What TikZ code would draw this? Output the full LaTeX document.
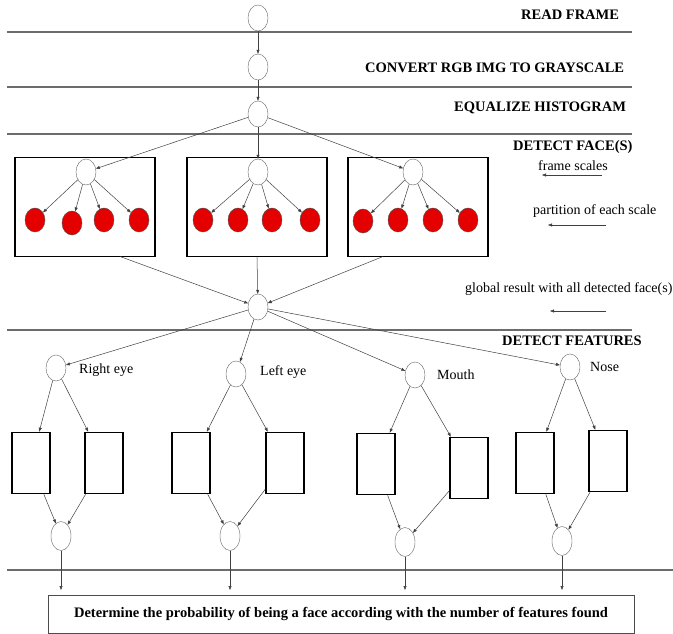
\documentclass[tikz,border=0pt]{standalone}
\usepackage{fontspec}
\setmainfont{Liberation Serif}
\usepackage{tikz}
\usetikzlibrary{shapes.geometric,arrows.meta}

\begin{document}
\begin{tikzpicture}
  [x=1pt,y=-1pt,>={Triangle[length=4pt,width=3pt]},
   every node/.style={inner sep=0pt},
   state/.style={ellipse,draw=gray!80!black,fill=white,minimum width=20pt,minimum height=26pt},
   part/.style={ellipse,draw=black!70,fill=red!90!black,minimum width=20pt,minimum height=24pt},
   scalebox/.style={draw,line width=1.6pt,minimum width=140pt,minimum height=99pt},
   featbox/.style={draw,line width=1.6pt,minimum width=38pt,minimum height=61pt},
   stage/.style={font=\bfseries\fontsize{14.5}{16}\selectfont,anchor=west},
   note/.style={font=\fontsize{14}{16}\selectfont,anchor=west},
   link/.style={->,draw=black!75,line width=0.5pt},
   sep/.style={draw=gray!85!black,line width=1.2pt}]
  \useasboundingbox (0,0) rectangle (673,633);

  \draw[sep] (7,32) -- (632,32);
  \draw[sep] (7,87) -- (632,87);
  \draw[sep] (7,134) -- (632,134);
  \draw[sep] (7,330) -- (632,330);
  \draw[sep] (7,570) -- (673,570);

  \node[stage] (t1) at (521,15) {READ FRAME};
  \node[stage] (t2) at (365,68) {CONVERT RGB IMG TO GRAYSCALE};
  \node[stage] (t3) at (454,108) {EQUALIZE HISTOGRAM};
  \node[stage] (t4) at (513,147) {DETECT FACE(S)};
  \node[stage] (t5) at (502,341) {DETECT FEATURES};

  \node[note] (m1) at (538,166) {frame scales};
  \node[note] (m2) at (533,211) {partition of each scale};
  \node[note] (m3) at (465,289) {global result with all detected face(s)};
  \coordinate (a1) at (602,175); \coordinate (b1) at (542,175);
  \coordinate (a2) at (606,225); \coordinate (b2) at (548,225);
  \coordinate (a3) at (606,311); \coordinate (b3) at (550,311);
  \draw[link] (a1) -- (b1);
  \draw[link] (a2) -- (b2);
  \draw[link] (a3) -- (b3);

  \node[state] (read) at (258,18) {};
  \node[state] (gray) at (258,67) {};
  \node[state] (equal) at (258,114) {};
  \draw[link] (read) -- (gray);
  \draw[link] (gray) -- (equal);

  \node[scalebox] (box1) at (85,207) {};
  \node[scalebox] (box2) at (257,207) {};
  \node[scalebox] (box3) at (418,207) {};

  \node[state] (s1) at (86,172) {};
  \node[state] (s2) at (258,172) {};
  \node[state] (s3) at (413,172) {};
  \draw[link] (equal) -- (s1);
  \draw[link] (equal) -- (s2);
  \draw[link] (equal) -- (s3);

  \node[part] (p11) at (35,220) {};
  \node[part] (p12) at (72,223) {};
  \node[part] (p13) at (104,220) {};
  \node[part] (p14) at (139,220) {};
  \node[part] (p21) at (203,220) {};
  \node[part] (p22) at (238,220) {};
  \node[part] (p23) at (272,220) {};
  \node[part] (p24) at (310,220) {};
  \node[part] (p31) at (363,221) {};
  \node[part] (p32) at (398,220) {};
  \node[part] (p33) at (433,220) {};
  \node[part] (p34) at (468,220) {};
  \draw[link] (s1) -- (p11);
  \draw[link] (s1) -- (p12);
  \draw[link] (s1) -- (p13);
  \draw[link] (s1) -- (p14);
  \draw[link] (s2) -- (p21);
  \draw[link] (s2) -- (p22);
  \draw[link] (s2) -- (p23);
  \draw[link] (s2) -- (p24);
  \draw[link] (s3) -- (p31);
  \draw[link] (s3) -- (p32);
  \draw[link] (s3) -- (p33);
  \draw[link] (s3) -- (p34);

  \node[state] (glob) at (258,307) {};
  \coordinate (o1) at (120,256.5);
  \coordinate (o2) at (257,256.5);
  \coordinate (o3) at (383,256.5);
  \draw[link] (o1) -- (glob);
  \draw[link] (o2) -- (glob);
  \draw[link] (o3) -- (glob);

  \node[state] (reye) at (56,368) {};
  \node[state] (leye) at (236,374) {};
  \node[state] (mouth) at (415,375) {};
  \node[state] (nose) at (570,367) {};
  \node[note] (lr) at (79,370) {Right eye};
  \node[note] (ll) at (260,372) {Left eye};
  \node[note] (lm) at (437,375) {Mouth};
  \node[note] (ln) at (590,367) {Nose};
  \draw[link] (glob) -- (reye);
  \draw[link] (glob) -- (leye);
  \draw[link] (glob) -- (mouth);
  \draw[link] (glob) -- (nose);

  \node[featbox] (r1) at (31,463) {};
  \node[featbox] (r2) at (104,463) {};
  \node[featbox] (l1) at (191,463) {};
  \node[featbox] (l2) at (285,463) {};
  \node[featbox] (m1b) at (376,464) {};
  \node[featbox] (m2b) at (469,468) {};
  \node[featbox] (n1b) at (535,463) {};
  \node[featbox] (n2b) at (608,461) {};
  \draw[link] (reye) -- (r1);
  \draw[link] (reye) -- (r2);
  \draw[link] (leye) -- (l1);
  \draw[link] (leye) -- (l2);
  \draw[link] (mouth) -- (m1b);
  \draw[link] (mouth) -- (m2b);
  \draw[link] (nose) -- (n1b);
  \draw[link] (nose) -- (n2b);

  \node[state,minimum height=29pt] (cr) at (61,536) {};
  \node[state,minimum height=29pt] (cl) at (230,536) {};
  \node[state,minimum height=29pt] (cm) at (405,542) {};
  \node[state,minimum height=29pt] (cn) at (562,541) {};
  \draw[link] (r1) -- (cr);
  \draw[link] (r2) -- (cr);
  \draw[link] (l1) -- (cl);
  \draw[link] (l2) -- (cl);
  \draw[link] (m1b) -- (cm);
  \draw[link] (m2b) -- (cm);
  \draw[link] (n1b) -- (cn);
  \draw[link] (n2b) -- (cn);

  \coordinate (e1) at (61,590);
  \coordinate (e2) at (230,590);
  \coordinate (e3) at (405,590);
  \coordinate (e4) at (562,590);
  \draw[link] (cr) -- (e1);
  \draw[link] (cl) -- (e2);
  \draw[link] (cm) -- (e3);
  \draw[link] (cn) -- (e4);

  \node[draw=black!70,line width=0.8pt,minimum width=586pt,minimum height=38pt,
        font=\bfseries\fontsize{14.5}{16}\selectfont] (prob) at (341,614)
        {Determine the probability of being a face according with the number of features found};
\end{tikzpicture}
\end{document}
